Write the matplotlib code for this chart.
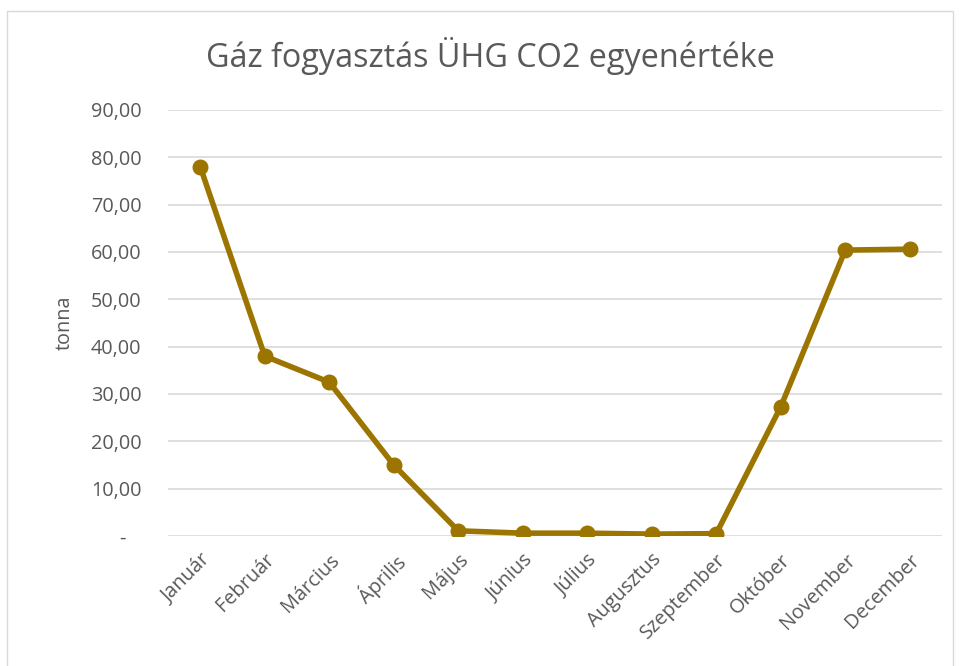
import matplotlib
matplotlib.use('Agg')
from matplotlib import pyplot as plt
from matplotlib.patches import Rectangle
from matplotlib.ticker import FuncFormatter

months = ['Január', 'Február', 'Március', 'Április', 'Május', 'Június',
          'Július', 'Augusztus', 'Szeptember', 'Október', 'November', 'December']
tonna = [78.0, 38.0, 32.5, 15.0, 1.1, 0.6, 0.6, 0.4, 0.5, 27.3, 60.4, 60.6]
y_ticks = [0, 10, 20, 30, 40, 50, 60, 70, 80, 90]

text_color = '#595959'
line_color = '#9C7500'

plt.rcParams['font.family'] = ['Open Sans', 'DejaVu Sans']

fig = plt.figure(figsize=(9.6, 6.66), dpi=100)
ax = fig.add_axes([168 / 960, 1 - 536 / 666, (942 - 168) / 960, (536 - 110) / 666])

x = list(range(len(months)))
ax.plot(x, tonna, color=line_color, linewidth=4, marker='o', markersize=10.5,
        solid_joinstyle='round', zorder=3)

ax.set_xlim(-0.5, len(months) - 0.5)
ax.set_ylim(0, 90)
ax.set_yticks(y_ticks)


def fmt(v, pos):
    if v == 0:
        return '-   '
    return f'{v:.2f}'.replace('.', ',')


ax.yaxis.set_major_formatter(FuncFormatter(fmt))
ax.set_xticks(x)
ax.set_xticklabels(months, rotation=45, ha='right', rotation_mode='anchor')
ax.tick_params(axis='both', length=0, colors=text_color, labelsize=14.3)
ax.tick_params(axis='y', pad=19)
ax.tick_params(axis='x', pad=10)
ax.grid(axis='y', color='#D9D9D9', linewidth=1.2)
ax.set_axisbelow(True)
for side in ['top', 'right', 'left', 'bottom']:
    ax.spines[side].set_visible(False)

ax.set_ylabel('tonna', color=text_color, fontsize=14.3, labelpad=12)
fig.text(490 / 960, 1 - 56 / 666, 'Gáz fogyasztás ÜHG CO2 egyenértéke',
         ha='center', va='center', fontsize=23.3, color=text_color)

fig.patches.append(Rectangle((7 / 960, -0.01), (953 - 7) / 960, 1 - 11 / 666 + 0.01,
                             transform=fig.transFigure, fill=False,
                             edgecolor='#D9D9D9', linewidth=1))

fig.savefig('out.png', dpi=100)
